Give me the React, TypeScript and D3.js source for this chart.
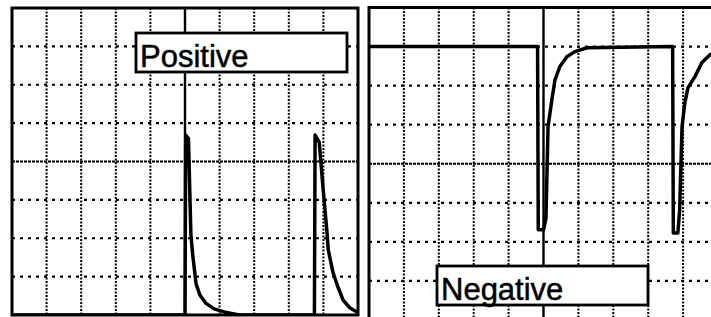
import React from 'react';
import * as d3 from 'd3';

// scope traces, in screen divisions (10 across, 8 up)
const positiveT = [0, 5.0, 5.02, 5.1, 5.17, 5.22, 5.32, 5.43, 5.6, 5.84, 6.13, 6.56, 8.74, 8.76, 8.88, 9.0, 9.1, 9.14, 9.28, 9.42, 9.57, 9.77, 9.97, 10];
const positiveV = [0, 0, 4.69, 4.6, 2.11, 1.59, 0.81, 0.52, 0.31, 0.16, 0.08, 0, 0, 4.69, 4.5, 3.2, 2.2, 1.7, 1.1, 0.73, 0.39, 0.18, 0.08, 0.06];

const negativeT = [0, 4.83, 4.85, 5.0, 5.07, 5.13, 5.24, 5.33, 5.47, 5.67, 5.9, 6.25, 8.7, 8.72, 8.85, 8.9, 8.97, 9.05, 9.14, 9.34, 9.54, 9.77, 10];
const negativeV = [7, 7, 2.31, 2.31, 2.6, 4.95, 5.64, 6.15, 6.49, 6.74, 6.87, 6.97, 7, 2.23, 2.23, 2.8, 4.95, 5.56, 5.95, 6.23, 6.59, 6.79, 6.9];

const xDivisions = d3.range(0, 11);
const yDivisions = d3.range(0, 9);
const labels = ['Positive', 'Negative'];

const W = 711;
const H = 317;
const FONT = '"Liberation Sans", Arial, sans-serif';

type PanelProps = {
  x0: number; x1: number; y0: number; y1: number;
  t: number[]; v: number[];
  label: string; labelX: number; labelY: number; labelW: number;
  clipId: string;
};

function Panel({ x0, x1, y0, y1, t, v, label, labelX, labelY, labelW, clipId }: PanelProps) {
  const x = d3.scaleLinear().domain([0, 10]).range([x0, x1]);
  const y = d3.scaleLinear().domain([0, 8]).range([y1, y0]);
  const pts: [number, number][] = t.map((d, i) => [d, v[i]]);
  const line = d3.line<[number, number]>().x(d => x(d[0])).y(d => y(d[1]));

  return (
    <g>
      <defs>
        <clipPath id={clipId}>
          <rect x={x0} y={y0} width={x1 - x0} height={y1 - y0} />
        </clipPath>
      </defs>
      <rect x={x0} y={y0} width={x1 - x0} height={y1 - y0} fill="#fff" />
      <g clipPath={`url(#${clipId})`}>
        {xDivisions.filter(d => d > 0 && d < 10 && d !== 5).map(d => (
          <line key={'v' + d} x1={x(d)} x2={x(d)} y1={y0} y2={y1}
            stroke="#000" strokeWidth={2} strokeDasharray="2,1.5" />
        ))}
        {yDivisions.filter(d => d > 0 && d < 8 && d !== 4).map(d => (
          <line key={'h' + d} x1={x0} x2={x1} y1={y(d)} y2={y(d)}
            stroke="#000" strokeWidth={2.2} strokeDasharray="3,5" />
        ))}
        {/* centre axes */}
        <line x1={x0} x2={x1} y1={y(4)} y2={y(4)} stroke="#000" strokeWidth={1.8} strokeDasharray="3,1" />
        <line x1={x(5)} x2={x(5)} y1={y0} y2={y1} stroke="#000" strokeWidth={2.4} />
        <path d={line(pts) ?? ''} fill="none" stroke="#000" strokeWidth={3.5}
          strokeLinejoin="round" strokeLinecap="round" />
      </g>
      <rect x={x0} y={y0} width={x1 - x0} height={y1 - y0} fill="none" stroke="#000" strokeWidth={3} />
      <rect x={labelX} y={labelY} width={labelW} height={39} fill="#fff" stroke="#000" strokeWidth={2.8} />
      <text x={labelX + 4} y={labelY + 34} fontFamily={FONT} fontSize={31} fill="#000"
        stroke="#000" strokeWidth={0.5}>{label}</text>
    </g>
  );
}

export default function App() {
  return (
    <div style={{ position: 'fixed', left: 0, top: 0 }}>
      <svg width={W} height={H} viewBox={`0 0 ${W} ${H}`} style={{ display: 'block', background: '#fff' }}>
        <Panel x0={12} x1={358} y0={8} y1={315} t={positiveT} v={positiveV}
          label={labels[0]} labelX={136} labelY={33} labelW={211} clipId="clipL" />
        <Panel x0={369} x1={718} y0={7.5} y1={320} t={negativeT} v={negativeV}
          label={labels[1]} labelX={437} labelY={266} labelW={211} clipId="clipR" />
      </svg>
    </div>
  );
}
